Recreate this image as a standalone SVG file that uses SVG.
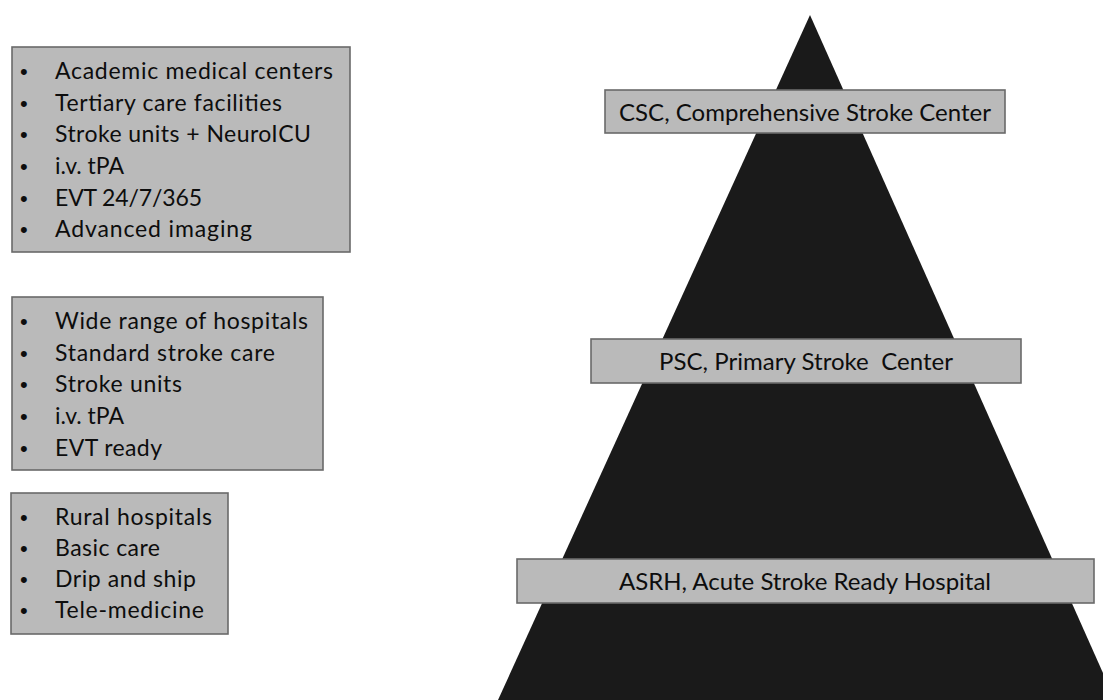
<svg xmlns="http://www.w3.org/2000/svg" width="1103" height="700" viewBox="0 0 1103 700">
<style>
.box{fill:#bababa;stroke:#6a6a6a;stroke-width:1.6}
.t{font-family:Lato,"Open Sans","Liberation Sans",sans-serif;font-size:23px;fill:#0d0d0d}
.b{font-family:"Liberation Sans",sans-serif;font-size:22px;fill:#0d0d0d}
.lvl{font-family:Lato,"Open Sans","Liberation Sans",sans-serif;font-size:24px;fill:#0d0d0d;text-anchor:middle}
</style>
<rect width="1103" height="700" fill="#ffffff"/>
<g id="pyramid">
<polygon points="810,15 1115,700 498,700" fill="#1a1a1a"/>
</g>
<g id="connectors"></g>
<g id="csc">
<rect class="box" x="605" y="90" width="400" height="43"/>
<text class="lvl" x="805" y="121" textLength="372">CSC, Comprehensive Stroke Center</text>
</g>
<g id="psc">
<rect class="box" x="591" y="339" width="430" height="44"/>
<text class="lvl" x="806" y="370" textLength="294" xml:space="preserve">PSC, Primary Stroke  Center</text>
</g>
<g id="asrh">
<rect class="box" x="517" y="559" width="577" height="44"/>
<text class="lvl" x="805" y="590" textLength="372">ASRH, Acute Stroke Ready Hospital</text>
</g>
<g id="list-csc">
<rect class="box" x="12" y="47" width="338" height="205"/>
<text class="b" x="20" y="79">•</text>
<text class="t" x="55" y="79" textLength="278">Academic medical centers</text>
<text class="b" x="20" y="111">•</text>
<text class="t" x="55" y="111" textLength="227">Tertiary care facilities</text>
<text class="b" x="20" y="142">•</text>
<text class="t" x="55" y="142" textLength="256">Stroke units + NeuroICU</text>
<text class="b" x="20" y="174">•</text>
<text class="t" x="55" y="174" textLength="69">i.v. tPA</text>
<text class="b" x="20" y="206">•</text>
<text class="t" x="55" y="206" textLength="147">EVT 24/7/365</text>
<text class="b" x="20" y="237">•</text>
<text class="t" x="55" y="237" textLength="197">Advanced imaging</text>
</g>
<g id="list-psc">
<rect class="box" x="12" y="297" width="311" height="173"/>
<text class="b" x="20" y="329">•</text>
<text class="t" x="55" y="329" textLength="253">Wide range of hospitals</text>
<text class="b" x="20" y="361">•</text>
<text class="t" x="55" y="361" textLength="220">Standard stroke care</text>
<text class="b" x="20" y="392">•</text>
<text class="t" x="55" y="392" textLength="127">Stroke units</text>
<text class="b" x="20" y="424">•</text>
<text class="t" x="55" y="424" textLength="69">i.v. tPA</text>
<text class="b" x="20" y="456">•</text>
<text class="t" x="55" y="456" textLength="107">EVT ready</text>
</g>
<g id="list-asrh">
<rect class="box" x="11" y="493" width="217" height="141"/>
<text class="b" x="20" y="525">•</text>
<text class="t" x="55" y="525" textLength="157">Rural hospitals</text>
<text class="b" x="20" y="556">•</text>
<text class="t" x="55" y="556" textLength="105">Basic care</text>
<text class="b" x="20" y="587">•</text>
<text class="t" x="55" y="587" textLength="141">Drip and ship</text>
<text class="b" x="20" y="618">•</text>
<text class="t" x="55" y="618" textLength="149">Tele-medicine</text>
</g>
</svg>
